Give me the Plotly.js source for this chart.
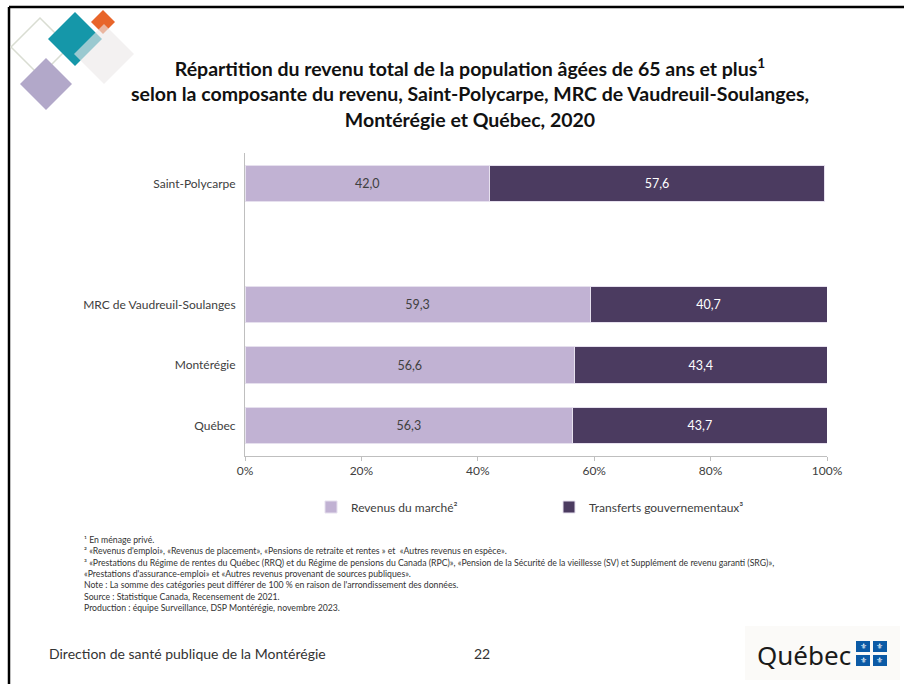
<!DOCTYPE html>
<html><head><meta charset="utf-8">
<script src="https://cdn.plot.ly/plotly-3.0.1.min.js"></script>
<style>html,body{margin:0;padding:0;background:#fff;}#chart{width:904px;height:684px;}</style>
</head><body><div id="chart"></div>
<script>
// ---- Data ----
const categories = ['Québec', 'Montérégie', 'MRC de Vaudreuil-Soulanges', 'Saint-Polycarpe'];
const categoryOrder = ['Québec', 'Montérégie', 'MRC de Vaudreuil-Soulanges', ' ', 'Saint-Polycarpe'];
const marketIncome = [56.3, 56.6, 59.3, 42.0];
const govTransfers = [43.7, 43.4, 40.7, 57.6];
const seriesNames = ['Revenus du marché²', 'Transferts gouvernementaux³'];
const xTicks = [0, 20, 40, 60, 80, 100];
const xTickLabels = ['0%', '20%', '40%', '60%', '80%', '100%'];
const titleText = '<b>Répartition du revenu total de la population âgées de 65 ans et plus<sup>1</sup><br>selon la composante du revenu, Saint-Polycarpe, MRC de Vaudreuil-Soulanges,<br>Montérégie et Québec, 2020</b>';
const footnotes = [
  '¹ En ménage privé.',
  '² «Revenus d\'emploi», «Revenus de placement», «Pensions de retraite et rentes » et  «Autres revenus en espèce».',
  '³ «Prestations du Régime de rentes du Québec (RRQ) et du Régime de pensions du Canada (RPC)», «Pension de la Sécurité de la vieillesse (SV) et Supplément de revenu garanti (SRG)»,',
  '«Prestations d\'assurance-emploi» et «Autres revenus provenant de sources publiques».',
  'Note : La somme des catégories peut différer de 100 % en raison de l\'arrondissement des données.',
  'Source : Statistique Canada, Recensement de 2021.',
  'Production : équipe Surveillance, DSP Montérégie, novembre 2023.'
];
const footerLeft = 'Direction de santé publique de la Montérégie';
const pageNumber = '22';

// ---- Layout geometry ----
const FW = 904, FH = 684;
const L = 245, R = 827, T = 153, B = 456;
const W = R - L, H = B - T;
const px = x => (x - L) / W;
const py = y => (B - y) / H;
const FONT = 'Lato, "Open Sans", sans-serif';
const txt = '#404040';
const lightC = '#C1B2D3';
const darkC = '#4B3B60';

const traces = [
  {type: 'bar', orientation: 'h', name: seriesNames[0], y: categories, x: marketIncome,
   marker: {color: lightC, line: {color: '#E6E0EE', width: 1}}, width: 0.6,
   texttemplate: '%{x:.1f}', textposition: 'inside', insidetextanchor: 'middle',
   textfont: {family: FONT, size: 12.5, color: txt}, hoverinfo: 'x+name'},
  {type: 'bar', orientation: 'h', name: seriesNames[1], y: categories, x: govTransfers,
   marker: {color: darkC, line: {color: '#E6E0EE', width: 1}}, width: 0.6,
   texttemplate: '%{x:.1f}', textposition: 'inside', insidetextanchor: 'middle',
   textfont: {family: FONT, size: 12.5, color: '#ffffff'}, hoverinfo: 'x+name'}
];

function diamond(cx, cy, r) {
  return `M ${px(cx)} ${py(cy - r)} L ${px(cx + r)} ${py(cy)} L ${px(cx)} ${py(cy + r)} L ${px(cx - r)} ${py(cy)} Z`;
}
function rectP(x0, y0, x1, y1, fill, line) {
  return {type: 'rect', xref: 'paper', yref: 'paper', x0: px(x0), x1: px(x1), y0: py(y1), y1: py(y0),
          fillcolor: fill, line: line || {width: 0}, layer: 'above'};
}

const shapes = [
  // slide frame
  {type: 'line', xref: 'paper', yref: 'paper', x0: px(9), x1: px(904), y0: py(7), y1: py(7), line: {color: '#000', width: 2.5}},
  {type: 'line', xref: 'paper', yref: 'paper', x0: px(9), x1: px(9), y0: py(7), y1: py(684), line: {color: '#000', width: 2.5}},
  // logo
  {type: 'path', xref: 'paper', yref: 'paper', path: diamond(40, 47, 29), fillcolor: 'rgba(0,0,0,0)', line: {color: '#D9DDD2', width: 1.5}},
  {type: 'path', xref: 'paper', yref: 'paper', path: diamond(46, 84, 26), fillcolor: '#B2A8C9', line: {width: 0}},
  {type: 'path', xref: 'paper', yref: 'paper', path: diamond(75, 39, 27), fillcolor: '#1597A9', line: {width: 0}},
  {type: 'path', xref: 'paper', yref: 'paper', path: diamond(103, 22, 12), fillcolor: '#E8652A', line: {width: 0}},
  {type: 'path', xref: 'paper', yref: 'paper', path: diamond(104, 54, 30), fillcolor: 'rgba(236,233,232,0.62)', line: {width: 0}},
  // Québec logo
  rectP(745, 626, 900, 680, '#FBFAF8'),
  rectP(856, 641, 870, 652, '#0B5AA6'),
  rectP(873, 641, 887, 652, '#0B5AA6'),
  rectP(856, 655, 870, 666, '#0B5AA6'),
  rectP(873, 655, 887, 666, '#0B5AA6')
];

const annotations = [
  {xref: 'paper', yref: 'paper', x: px(82), y: py(532), xanchor: 'left', yanchor: 'top', align: 'left',
   text: footnotes.join('<br>'), showarrow: false, font: {family: FONT, size: 8.7, color: '#333'}},
  {xref: 'paper', yref: 'paper', x: px(47), y: py(653), xanchor: 'left', yanchor: 'middle',
   text: footerLeft, showarrow: false, font: {family: FONT, size: 14, color: '#333'}},
  {xref: 'paper', yref: 'paper', x: px(482), y: py(653), xanchor: 'center', yanchor: 'middle',
   text: pageNumber, showarrow: false, font: {family: FONT, size: 14, color: '#333'}},
  {xref: 'paper', yref: 'paper', x: px(853), y: py(655), xanchor: 'right', yanchor: 'middle',
   text: 'Québec', showarrow: false, font: {family: '"Noto Sans", sans-serif', size: 26, color: '#1a1a1a'}}
];
[[863, 646.5], [880, 646.5], [863, 660.5], [880, 660.5]].forEach(p => {
  annotations.push({xref: 'paper', yref: 'paper', x: px(p[0]), y: py(p[1]), xanchor: 'center', yanchor: 'middle',
    text: '⚜', showarrow: false, font: {family: '"DejaVu Sans"', size: 8, color: '#fff'}});
});

const layout = {
  width: FW, height: FH,
  margin: {l: L, r: FW - R, t: T, b: FH - B, pad: 0},
  paper_bgcolor: '#fff', plot_bgcolor: '#fff',
  separators: ', ',
  barmode: 'stack',
  showlegend: true,
  title: {text: titleText, xref: 'container', yref: 'container', x: 470 / FW, xanchor: 'center',
          y: 1 - 76 / FH, yanchor: 'middle',
          font: {family: FONT, size: 19.5, color: '#111'}},
  font: {family: FONT, color: txt},
  xaxis: {range: [0, 100], tickvals: xTicks, ticktext: xTickLabels, showgrid: false, zeroline: false,
          showline: true, linecolor: '#BFBFBF', linewidth: 1, ticks: 'outside', ticklen: 4, tickcolor: '#BFBFBF',
          tickfont: {family: FONT, size: 12, color: txt}, fixedrange: true},
  yaxis: {type: 'category', categoryorder: 'array', categoryarray: categoryOrder, range: [-0.5, 4.5],
          tickvals: categories, ticktext: categories,
          showgrid: false, zeroline: false, showline: true, linecolor: '#BFBFBF', linewidth: 1, ticks: '',
          tickfont: {family: FONT, size: 12, color: txt}, ticklabelstandoff: 6, fixedrange: true},
  legend: {orientation: 'h', x: px(311), xanchor: 'left', y: py(507), yanchor: 'middle',
           font: {family: FONT, size: 12, color: txt}, entrywidth: 193, entrywidthmode: 'pixels',
           traceorder: 'normal', itemclick: false, itemdoubleclick: false},
  shapes: shapes,
  annotations: annotations
};

Plotly.newPlot('chart', traces, layout, {displayModeBar: false, staticPlot: true});
</script></body></html>
